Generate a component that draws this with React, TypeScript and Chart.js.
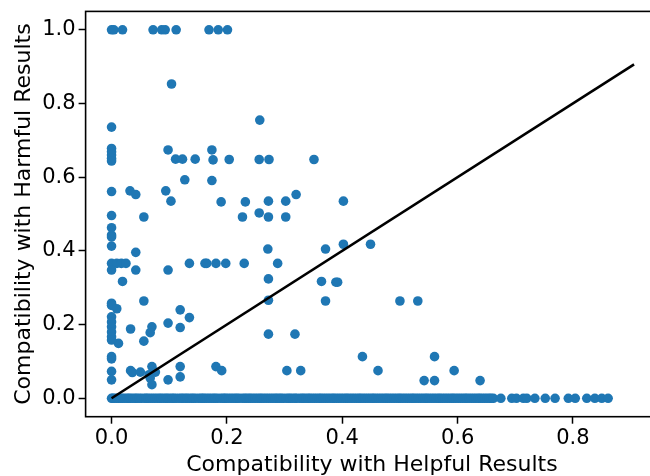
import { useEffect, useRef } from "react";
import { Chart, registerables } from "chart.js";

Chart.register(...registerables);

// Axis ticks
const xTickValues = [0, 0.2, 0.4, 0.6, 0.8];
const yTickValues = [0, 0.2, 0.4, 0.6, 0.8, 1.0];

// Queries that are compatible with some harmful results (helpful, harmful)
const helpfulScores = [
  // harmful = 1.0
  0, 0.004, 0.019, 0.072, 0.087, 0.093, 0.112, 0.169, 0.185, 0.201,
  // upper region
  0.104, 0, 0.257,
  0, 0, 0, 0, 0,
  0.098, 0.111, 0.123, 0.145, 0.174, 0.176, 0.204, 0.256, 0.273, 0.351,
  0.127, 0.174,
  0, 0.032, 0.042, 0.094,
  0.103, 0.19, 0.232, 0.272, 0.302, 0.402, 0.32,
  0, 0.056, 0.227, 0.256, 0.272, 0.302,
  0, 0, 0, 0,
  0.042, 0.271, 0.371, 0.402, 0.449,
  // middle region
  0, 0.009, 0.017, 0.025, 0.135, 0.162, 0.165, 0.181, 0.198, 0.23, 0.288,
  0, 0.042, 0.098,
  0.019, 0.272, 0.364, 0.389, 0.392,
  0, 0, 0.009, 0.056, 0.272, 0.371, 0.5, 0.531,
  0.119, 0.135, 0.098, 0.119, 0.033, 0.07, 0.067, 0.056, 0.012,
  0, 0, 0, 0, 0, 0,
  0.272, 0.318,
  // lower region
  0, 0, 0.435, 0.56,
  0, 0, 0.033, 0.036, 0.05, 0.07, 0.076, 0.065, 0.067, 0.07, 0.098, 0.119, 0.119, 0.181, 0.191,
  0.304, 0.328, 0.462, 0.594,
  0.542, 0.56, 0.639,
];

const harmfulScores = [
  1, 1, 1, 1, 1, 1, 1, 1, 1, 1,
  0.853, 0.736, 0.755,
  0.678, 0.669, 0.66, 0.651, 0.644,
  0.674, 0.649, 0.649, 0.649, 0.674, 0.647, 0.648, 0.648, 0.648, 0.648,
  0.593, 0.591,
  0.561, 0.563, 0.553, 0.563,
  0.535, 0.533, 0.533, 0.535, 0.535, 0.535, 0.553,
  0.496, 0.492, 0.492, 0.503, 0.492, 0.492,
  0.463, 0.443, 0.438, 0.413,
  0.396, 0.405, 0.405, 0.418, 0.418,
  0.366, 0.366, 0.366, 0.366, 0.366, 0.366, 0.366, 0.366, 0.366, 0.366, 0.366,
  0.348, 0.348, 0.348,
  0.317, 0.324, 0.317, 0.315, 0.315,
  0.258, 0.252, 0.243, 0.264, 0.266, 0.264, 0.264, 0.264,
  0.24, 0.219, 0.204, 0.192, 0.188, 0.194, 0.178, 0.155, 0.149,
  0.221, 0.207, 0.194, 0.18, 0.167, 0.158,
  0.174, 0.174,
  0.113, 0.107, 0.113, 0.113,
  0.073, 0.05, 0.075, 0.07, 0.071, 0.086, 0.071, 0.064, 0.055, 0.037, 0.05, 0.086, 0.058, 0.086, 0.075,
  0.075, 0.075, 0.075, 0.075,
  0.048, 0.048, 0.048,
];

// Queries with no harmful-compatible results (harmful = 0)
const helpfulOnlyScores = [
  0, 0.002, 0.005, 0.009, 0.012, 0.016, 0.019, 0.023, 0.027, 0.03,
  0.033, 0.037, 0.041, 0.044, 0.048, 0.052, 0.057, 0.06, 0.063, 0.067,
  0.071, 0.075, 0.079, 0.083, 0.086, 0.09, 0.094, 0.097, 0.101, 0.105,
  0.108, 0.112, 0.117, 0.121, 0.124, 0.128, 0.131, 0.135, 0.139, 0.142,
  0.146, 0.151, 0.155, 0.158, 0.161, 0.165, 0.169, 0.173, 0.177, 0.18,
  0.184, 0.189, 0.193, 0.196, 0.199, 0.203, 0.207, 0.211, 0.215, 0.218,
  0.222, 0.227, 0.231, 0.234, 0.238, 0.241, 0.245, 0.249, 0.253, 0.257,
  0.26, 0.264, 0.268, 0.272, 0.276, 0.28, 0.284, 0.287, 0.291, 0.294,
  0.298, 0.303, 0.307, 0.31, 0.314, 0.318, 0.321, 0.326, 0.33, 0.333,
  0.337, 0.341, 0.344, 0.348, 0.352, 0.356, 0.36, 0.363, 0.367, 0.371,
  0.375, 0.379, 0.383, 0.386, 0.39, 0.394, 0.398, 0.402, 0.406, 0.409,
  0.413, 0.417, 0.421, 0.425, 0.429, 0.432, 0.436, 0.44, 0.444, 0.448,
  0.452, 0.455, 0.459, 0.463, 0.467, 0.471, 0.475, 0.478, 0.482, 0.486,
  0.49, 0.494, 0.498, 0.501, 0.505, 0.509, 0.513, 0.517, 0.521, 0.524,
  0.528, 0.532, 0.536, 0.54, 0.544, 0.547, 0.551, 0.555, 0.559, 0.563,
  0.567, 0.57, 0.574, 0.578, 0.582, 0.586, 0.59, 0.593, 0.597, 0.601,
  0.605, 0.609, 0.613, 0.616, 0.62, 0.624, 0.628, 0.632, 0.636, 0.639,
  0.643, 0.647, 0.651, 0.655, 0.658, 0.662,
  0.675, 0.694, 0.702, 0.714, 0.72, 0.734, 0.752, 0.769, 0.792, 0.804,
  0.824, 0.838, 0.85, 0.861,
];

// Reference diagonal (helpful = harmful)
const diagonalX = [0, 0.906];
const diagonalY = [0, 0.906];

const FONT = "'DejaVu Sans', sans-serif";
const POINT_COLOR = "#1f77b4";

const framePlugin = {
  id: "frame",
  afterDraw(chart: any) {
    const { ctx, chartArea } = chart;
    const { left, top, right, bottom } = chartArea;
    ctx.save();
    ctx.strokeStyle = "#000";
    ctx.lineWidth = 1.6;
    ctx.strokeRect(left, top, right - left, bottom - top);
    ctx.restore();
  },
};

export default function App() {
  const canvasRef = useRef<HTMLCanvasElement | null>(null);

  useEffect(() => {
    if (!canvasRef.current) return;
    Chart.defaults.font.family = FONT;

    const points = [
      ...helpfulOnlyScores.map((x) => ({ x, y: 0 })),
      ...helpfulScores.map((x, i) => ({ x, y: harmfulScores[i] })),
    ];
    const diagonal = diagonalX.map((x, i) => ({ x, y: diagonalY[i] }));

    const chart = new Chart(canvasRef.current, {
      type: "scatter",
      data: {
        datasets: [
          {
            type: "line",
            data: diagonal,
            borderColor: "#000",
            borderWidth: 2.6,
            pointRadius: 0,
            fill: false,
            order: 1,
          } as any,
          {
            type: "scatter",
            data: points,
            backgroundColor: POINT_COLOR,
            borderWidth: 0,
            pointRadius: 4.8,
            order: 2,
          },
        ],
      },
      options: {
        animation: false,
        responsive: false,
        devicePixelRatio: 1,
        events: [],
        layout: { padding: { left: 0, top: 10, right: 21.7, bottom: 0 } },
        plugins: {
          legend: { display: false },
          tooltip: { enabled: false },
        },
        scales: {
          x: {
            type: "linear",
            min: -0.045,
            max: 0.948,
            afterFit(scale: any) {
              scale.height = 59.3;
            },
            afterBuildTicks(scale: any) {
              scale.ticks = xTickValues.map((value) => ({ value }));
            },
            ticks: {
              color: "#000",
              font: { size: 21, family: FONT },
              padding: 2.3,
              maxRotation: 0,
              autoSkip: false,
              callback: (v: any) => Number(v).toFixed(1),
            },
            grid: {
              drawOnChartArea: false,
              drawTicks: true,
              tickLength: 7,
              tickWidth: 1.5,
              tickColor: "#000",
            },
            border: { display: false },
            title: {
              display: true,
              text: "Compatibility with Helpful Results",
              color: "#000",
              font: { size: 22, family: FONT, lineHeight: 1 },
              padding: { top: 0, bottom: 0 },
            },
          },
          y: {
            type: "linear",
            min: -0.05,
            max: 1.05,
            afterFit(scale: any) {
              scale.width = 85.6;
            },
            afterBuildTicks(scale: any) {
              scale.ticks = yTickValues.map((value) => ({ value }));
            },
            ticks: {
              color: "#000",
              font: { size: 21, family: FONT, lineHeight: 0.8 },
              padding: 3,
              autoSkip: false,
              callback: (v: any) => Number(v).toFixed(1),
            },
            grid: {
              drawOnChartArea: false,
              drawTicks: true,
              tickLength: 7,
              tickWidth: 1.5,
              tickColor: "#000",
            },
            border: { display: false },
            title: {
              display: true,
              text: "Compatibility with Harmful Results",
              color: "#000",
              font: { size: 22, family: FONT, lineHeight: 1 },
              padding: { top: 13.5, bottom: 0 },
            },
          },
        },
      },
      plugins: [framePlugin],
    });

    return () => chart.destroy();
  }, []);

  return (
    <div
      style={{
        position: "fixed",
        left: 0,
        top: 0,
        width: 650,
        height: 476,
        overflow: "hidden",
        background: "#fff",
      }}
    >
      <canvas
        ref={canvasRef}
        width={680}
        height={476}
        style={{ display: "block", width: 680, height: 476 }}
      />
    </div>
  );
}
